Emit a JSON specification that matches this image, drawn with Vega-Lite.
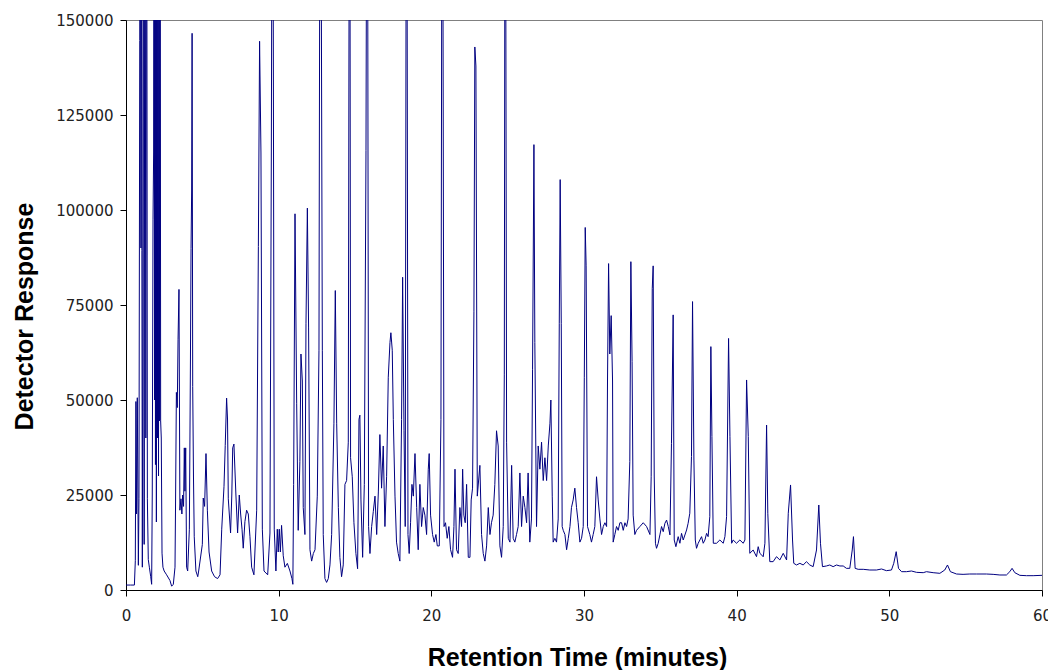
{
  "$schema": "https://vega.github.io/schema/vega-lite/v6.json",
  "width": 916,
  "height": 570,
  "autosize": {"type": "none"},
  "padding": {"left": 126, "top": 20, "right": 6, "bottom": 80},
  "background": "white",
  "config": {
    "view": {"stroke": "#808080", "strokeWidth": 1},
    "axis": {"grid": false, "domainColor": "#000", "tickColor": "#000", "labelFont": "DejaVu Sans", "labelFontSize": 15, "labelColor": "#222", "titleFont": "Liberation Sans", "titleFontWeight": "bold", "titleFontSize": 25, "titleColor": "#000"}
  },
  "data": {"values": [
    {"t":0,"v":1300},{"t":0.3,"v":1300},{"t":0.55,"v":1300},{"t":0.61,"v":7700},{"t":0.65,"v":49600},{"t":0.69,"v":20000},{"t":0.74,"v":50600},{"t":0.81,"v":6500},{"t":0.85,"v":24000},{"t":0.9,"v":144600},{"t":0.93,"v":250000},{"t":0.98,"v":90000},{"t":1.0,"v":250000},{"t":1.04,"v":89400},{"t":1.07,"v":6000},{"t":1.1,"v":60000},{"t":1.14,"v":250000},{"t":1.19,"v":12000},{"t":1.24,"v":250000},{"t":1.3,"v":40000},{"t":1.35,"v":250000},{"t":1.4,"v":24000},{"t":1.46,"v":8000},{"t":1.53,"v":6000},{"t":1.62,"v":3500},{"t":1.68,"v":1500},{"t":1.72,"v":25000},{"t":1.77,"v":97600},{"t":1.81,"v":115000},{"t":1.84,"v":250000},{"t":1.87,"v":50000},{"t":1.9,"v":250000},{"t":1.93,"v":33000},{"t":1.96,"v":250000},{"t":1.99,"v":17900},{"t":2.02,"v":250000},{"t":2.06,"v":40000},{"t":2.09,"v":250000},{"t":2.13,"v":30000},{"t":2.16,"v":250000},{"t":2.2,"v":44500},{"t":2.23,"v":250000},{"t":2.27,"v":44500},{"t":2.31,"v":40000},{"t":2.36,"v":9700},{"t":2.42,"v":6000},{"t":2.5,"v":5000},{"t":2.66,"v":4000},{"t":2.88,"v":2500},{"t":2.99,"v":1000},{"t":3.1,"v":1500},{"t":3.21,"v":6000},{"t":3.24,"v":20000},{"t":3.3,"v":52000},{"t":3.36,"v":48000},{"t":3.41,"v":66000},{"t":3.47,"v":79100},{"t":3.53,"v":21000},{"t":3.6,"v":24000},{"t":3.66,"v":20000},{"t":3.71,"v":25000},{"t":3.77,"v":22000},{"t":3.82,"v":37400},{"t":3.86,"v":26000},{"t":3.91,"v":37400},{"t":3.97,"v":6000},{"t":4.04,"v":5000},{"t":4.15,"v":16000},{"t":4.22,"v":60000},{"t":4.26,"v":89900},{"t":4.3,"v":105000},{"t":4.33,"v":146500},{"t":4.37,"v":53500},{"t":4.42,"v":30000},{"t":4.47,"v":14000},{"t":4.58,"v":5000},{"t":4.7,"v":3500},{"t":4.76,"v":5000},{"t":5.0,"v":12000},{"t":5.06,"v":24200},{"t":5.15,"v":22000},{"t":5.24,"v":35900},{"t":5.33,"v":21000},{"t":5.44,"v":10000},{"t":5.61,"v":5000},{"t":5.8,"v":3500},{"t":6.0,"v":3000},{"t":6.16,"v":4000},{"t":6.27,"v":16000},{"t":6.42,"v":27300},{"t":6.5,"v":38000},{"t":6.59,"v":50500},{"t":6.65,"v":45000},{"t":6.7,"v":24000},{"t":6.85,"v":15000},{"t":6.93,"v":25000},{"t":6.99,"v":37400},{"t":7.07,"v":38400},{"t":7.2,"v":25000},{"t":7.31,"v":15000},{"t":7.42,"v":25000},{"t":7.51,"v":20000},{"t":7.6,"v":16000},{"t":7.68,"v":11000},{"t":7.79,"v":18000},{"t":7.9,"v":21000},{"t":8.01,"v":20000},{"t":8.12,"v":14000},{"t":8.23,"v":6000},{"t":8.38,"v":4000},{"t":8.56,"v":21000},{"t":8.67,"v":90400},{"t":8.75,"v":144400},{"t":8.84,"v":115000},{"t":8.93,"v":16000},{"t":9.04,"v":5000},{"t":9.28,"v":4000},{"t":9.43,"v":15000},{"t":9.52,"v":115000},{"t":9.6,"v":250000},{"t":9.71,"v":16000},{"t":9.82,"v":5000},{"t":9.91,"v":16000},{"t":9.97,"v":10000},{"t":10.04,"v":16000},{"t":10.11,"v":10000},{"t":10.19,"v":17000},{"t":10.3,"v":9000},{"t":10.41,"v":6000},{"t":10.57,"v":7000},{"t":10.74,"v":5000},{"t":10.87,"v":3000},{"t":10.93,"v":1500},{"t":10.98,"v":27800},{"t":11.07,"v":99000},{"t":11.18,"v":49000},
    {"t":11.28,"v":15700},{"t":11.39,"v":33800},{"t":11.46,"v":62100},{"t":11.55,"v":55000},{"t":11.61,"v":21700},{"t":11.72,"v":14600},{"t":11.79,"v":70200},{"t":11.88,"v":100500},{"t":11.96,"v":69200},{"t":12.05,"v":10600},{"t":12.16,"v":7600},{"t":12.27,"v":9600},{"t":12.38,"v":10600},{"t":12.53,"v":24700},{"t":12.64,"v":63100},{"t":12.73,"v":250000},{"t":12.86,"v":63100},{"t":12.92,"v":14600},{"t":13.03,"v":3000},{"t":13.14,"v":2000},{"t":13.25,"v":3000},{"t":13.36,"v":6600},{"t":13.47,"v":14600},{"t":13.62,"v":43900},{"t":13.71,"v":78800},{"t":13.8,"v":43900},{"t":13.91,"v":21700},{"t":14.01,"v":8600},{"t":14.12,"v":3500},{"t":14.23,"v":6600},{"t":14.34,"v":27800},{"t":14.45,"v":28800},{"t":14.56,"v":38900},{"t":14.65,"v":250000},{"t":14.71,"v":34800},{"t":14.82,"v":29800},{"t":14.93,"v":17700},{"t":15.06,"v":9600},{"t":15.17,"v":5600},{"t":15.26,"v":44900},{"t":15.32,"v":46000},{"t":15.39,"v":23700},{"t":15.5,"v":8600},{"t":15.61,"v":27800},{"t":15.72,"v":115600},{"t":15.8,"v":250000},{"t":15.89,"v":16700},{"t":15.98,"v":9600},{"t":16.09,"v":16700},{"t":16.2,"v":20700},{"t":16.31,"v":24700},{"t":16.42,"v":14600},{"t":16.53,"v":25800},{"t":16.63,"v":40900},{"t":16.74,"v":26800},{"t":16.85,"v":37900},{"t":16.96,"v":16700},{"t":17.07,"v":29800},{"t":17.18,"v":56000},{"t":17.29,"v":65100},{"t":17.35,"v":67700},{"t":17.44,"v":63100},{"t":17.51,"v":44900},{"t":17.62,"v":24700},{"t":17.72,"v":12600},{"t":17.83,"v":9600},{"t":17.94,"v":7600},{"t":18.05,"v":44900},{"t":18.12,"v":82300},{"t":18.21,"v":41900},{"t":18.29,"v":16700},{"t":18.38,"v":250000},{"t":18.47,"v":14600},{"t":18.55,"v":9600},{"t":18.64,"v":17700},{"t":18.73,"v":27800},{"t":18.82,"v":24700},{"t":18.93,"v":35900},{"t":19.04,"v":21700},{"t":19.14,"v":10600},{"t":19.25,"v":27800},{"t":19.36,"v":16700},{"t":19.47,"v":21700},{"t":19.58,"v":19700},{"t":19.69,"v":14600},{"t":19.8,"v":31800},{"t":19.86,"v":35900},{"t":19.95,"v":19700},{"t":20.08,"v":14600},{"t":20.19,"v":12600},{"t":20.3,"v":14600},{"t":20.39,"v":11600},{"t":20.52,"v":11600},{"t":20.63,"v":44900},{"t":20.72,"v":250000},{"t":20.83,"v":16700},{"t":20.93,"v":17700},{"t":21.04,"v":13600},{"t":21.15,"v":16700},{"t":21.26,"v":10600},{"t":21.39,"v":8600},{"t":21.48,"v":16700},{"t":21.55,"v":31800},{"t":21.65,"v":10600},{"t":21.76,"v":9600},{"t":21.87,"v":21700},{"t":21.98,"v":16700},{"t":22.05,"v":31800},{"t":22.13,"v":19700},{"t":22.22,"v":17700},{"t":22.31,"v":27800},{"t":22.42,"v":8600},{"t":22.53,"v":8600},{"t":22.61,"v":23700},{"t":22.7,"v":26800},{"t":22.79,"v":73200},{"t":22.85,"v":142900},{"t":22.92,"v":137900},{"t":23.01,"v":24700},
    {"t":23.18,"v":32800},{"t":23.29,"v":14600},{"t":23.4,"v":9600},{"t":23.51,"v":7600},{"t":23.62,"v":11600},{"t":23.73,"v":21700},{"t":23.84,"v":14600},{"t":23.94,"v":17700},{"t":24.05,"v":19700},{"t":24.16,"v":27800},{"t":24.27,"v":41900},{"t":24.38,"v":37900},{"t":24.49,"v":11600},{"t":24.6,"v":8600},{"t":24.71,"v":16700},{"t":24.78,"v":56600},{"t":24.84,"v":250000},{"t":24.93,"v":38900},{"t":25.04,"v":13600},{"t":25.15,"v":12600},{"t":25.26,"v":32800},{"t":25.36,"v":13600},{"t":25.47,"v":12600},{"t":25.58,"v":14600},{"t":25.69,"v":16700},{"t":25.8,"v":30800},{"t":25.91,"v":16700},{"t":26.02,"v":24700},{"t":26.13,"v":21700},{"t":26.24,"v":17700},{"t":26.34,"v":30800},{"t":26.45,"v":12600},{"t":26.56,"v":18700},{"t":26.63,"v":58100},{"t":26.72,"v":117200},{"t":26.78,"v":65100},{"t":26.89,"v":16700},{"t":27.0,"v":37900},{"t":27.11,"v":31800},{"t":27.22,"v":38900},{"t":27.33,"v":28800},{"t":27.44,"v":34800},{"t":27.55,"v":28800},{"t":27.66,"v":37900},{"t":27.77,"v":43900},{"t":27.83,"v":50000},{"t":27.92,"v":24700},{"t":27.98,"v":12600},{"t":28.09,"v":13600},{"t":28.2,"v":12600},{"t":28.31,"v":18700},{"t":28.38,"v":70200},{"t":28.44,"v":108000},{"t":28.51,"v":70200},{"t":28.57,"v":16700},{"t":28.64,"v":15700},{"t":28.75,"v":14600},{"t":28.86,"v":10600},{"t":28.97,"v":13600},{"t":29.08,"v":16700},{"t":29.18,"v":21700},{"t":29.29,"v":23700},{"t":29.4,"v":26800},{"t":29.51,"v":21700},{"t":29.62,"v":17700},{"t":29.73,"v":12600},{"t":29.84,"v":13600},{"t":29.95,"v":16700},{"t":30.02,"v":56000},{"t":30.08,"v":95400},{"t":30.14,"v":85300},{"t":30.23,"v":16700},{"t":30.38,"v":14600},{"t":30.49,"v":12600},{"t":30.6,"v":14600},{"t":30.71,"v":16700},{"t":30.82,"v":29800},{"t":30.93,"v":23700},{"t":31.04,"v":18700},{"t":31.15,"v":14600},{"t":31.26,"v":16700},{"t":31.37,"v":17700},{"t":31.48,"v":16700},{"t":31.54,"v":55000},{"t":31.61,"v":85900},{"t":31.69,"v":62100},{"t":31.78,"v":72200},{"t":31.87,"v":55000},{"t":31.91,"v":12600},{"t":32.02,"v":14600},{"t":32.13,"v":16700},{"t":32.24,"v":15700},{"t":32.35,"v":17700},{"t":32.46,"v":17700},{"t":32.57,"v":15700},{"t":32.68,"v":17700},{"t":32.79,"v":16700},{"t":32.89,"v":18700},{"t":33.0,"v":33800},{"t":33.07,"v":86400},{"t":33.15,"v":60100},{"t":33.22,"v":19700},{"t":33.33,"v":14600},{"t":33.44,"v":15700},{"t":33.66,"v":16700},{"t":33.88,"v":17700},{"t":34.1,"v":16700},{"t":34.32,"v":14600},{"t":34.4,"v":29800},{"t":34.47,"v":79300},{"t":34.53,"v":85300},{"t":34.6,"v":30000},{"t":34.68,"v":12300},
    {"t":34.75,"v":10970},{"t":34.86,"v":12300},{"t":34.97,"v":14500},{"t":35.08,"v":16700},{"t":35.19,"v":15350},{"t":35.3,"v":17550},{"t":35.41,"v":18400},{"t":35.52,"v":16700},{"t":35.63,"v":14500},{"t":35.73,"v":38600},{"t":35.8,"v":60000},{"t":35.84,"v":72400},{"t":35.91,"v":13160},{"t":36.02,"v":11400},{"t":36.17,"v":14040},{"t":36.28,"v":12300},{"t":36.39,"v":14900},{"t":36.5,"v":13160},{"t":36.72,"v":15800},{"t":36.82,"v":17550},{"t":36.93,"v":20200},{"t":37.04,"v":35100},{"t":37.11,"v":75900},{"t":37.2,"v":34200},{"t":37.29,"v":13160},{"t":37.37,"v":10970},{"t":37.48,"v":12300},{"t":37.59,"v":13160},{"t":37.7,"v":14040},{"t":37.81,"v":12300},{"t":37.92,"v":13160},{"t":38.03,"v":14900},{"t":38.13,"v":14040},{"t":38.24,"v":19300},{"t":38.31,"v":64050},{"t":38.38,"v":40400},{"t":38.47,"v":12300},{"t":38.68,"v":12300},{"t":38.9,"v":13160},{"t":39.12,"v":12300},{"t":39.23,"v":14040},{"t":39.34,"v":19300},{"t":39.47,"v":66200},{"t":39.56,"v":40400},{"t":39.67,"v":12300},{"t":39.77,"v":13160},{"t":39.99,"v":12300},{"t":40.21,"v":13160},{"t":40.43,"v":12300},{"t":40.54,"v":13160},{"t":40.65,"v":55270},{"t":40.76,"v":40400},{"t":40.86,"v":9650},{"t":41.08,"v":10530},{"t":41.3,"v":8770},{"t":41.41,"v":11400},{"t":41.52,"v":9650},{"t":41.74,"v":8770},{"t":41.85,"v":12300},{"t":41.96,"v":43400},{"t":42.04,"v":20200},{"t":42.17,"v":7460},{"t":42.39,"v":7460},{"t":42.61,"v":8770},{"t":42.83,"v":7900},{"t":43.05,"v":9650},{"t":43.27,"v":7900},{"t":43.38,"v":20200},{"t":43.53,"v":27640},{"t":43.66,"v":13160},{"t":43.74,"v":7020},{"t":43.92,"v":6580},{"t":44.14,"v":7020},{"t":44.36,"v":6580},{"t":44.57,"v":7460},{"t":44.79,"v":6580},{"t":45.01,"v":6140},{"t":45.23,"v":10530},{"t":45.38,"v":22370},{"t":45.49,"v":12300},{"t":45.62,"v":6140},
    {"t":45.88,"v":6320},{"t":46.1,"v":6580},{"t":46.32,"v":6140},{"t":46.54,"v":6580},{"t":46.76,"v":6320},{"t":46.98,"v":6320},{"t":47.19,"v":5700},{"t":47.41,"v":5700},{"t":47.57,"v":10530},{"t":47.65,"v":14040},{"t":47.76,"v":5700},{"t":47.96,"v":5440},{"t":48.29,"v":5440},{"t":48.72,"v":5260},{"t":49.16,"v":5260},{"t":49.49,"v":5530},{"t":49.81,"v":5090},{"t":50.14,"v":5260},{"t":50.29,"v":7020},{"t":50.45,"v":10090},{"t":50.6,"v":5700},{"t":50.8,"v":4820},{"t":51.12,"v":4820},{"t":51.45,"v":5000},{"t":51.78,"v":4650},{"t":52.22,"v":4560},{"t":52.43,"v":4820},{"t":52.87,"v":4560},{"t":53.31,"v":4390},{"t":53.63,"v":5260},{"t":53.81,"v":6580},{"t":54.0,"v":4820},{"t":54.4,"v":4210},{"t":54.83,"v":4120},{"t":55.27,"v":4210},{"t":55.71,"v":4210},{"t":56.36,"v":4210},{"t":56.8,"v":4120},{"t":57.24,"v":3950},{"t":57.67,"v":3950},{"t":57.89,"v":4820},{"t":58.04,"v":5700},{"t":58.22,"v":4560},{"t":58.55,"v":3860},{"t":58.98,"v":3770},{"t":59.42,"v":3770},{"t":60,"v":3860}
  ]},
  "mark": {"type": "line", "clip": true, "color": "#000080", "strokeWidth": 1, "interpolate": "linear"},
  "encoding": {
    "x": {"field": "t", "type": "quantitative", "scale": {"domain": [0, 60], "nice": false, "zero": false},
      "axis": {"values": [0, 10, 20, 30, 40, 50, 60], "tickSize": 6, "labelPadding": 12, "labelFlush": false, "title": "Retention Time (minutes)", "titleX": 451, "titleY": 75, "titleBaseline": "alphabetic", "titleAlign": "center"}},
    "y": {"field": "v", "type": "quantitative", "scale": {"domain": [0, 150000], "nice": false},
      "axis": {"values": [0, 25000, 50000, 75000, 100000, 125000, 150000], "format": "d", "tickSize": 6, "labelPadding": 7, "labelFlush": false, "title": "Detector Response", "titleX": -89, "titleY": 296, "titleAngle": 270, "titleBaseline": "bottom", "titleAlign": "center"}}
  }
}
